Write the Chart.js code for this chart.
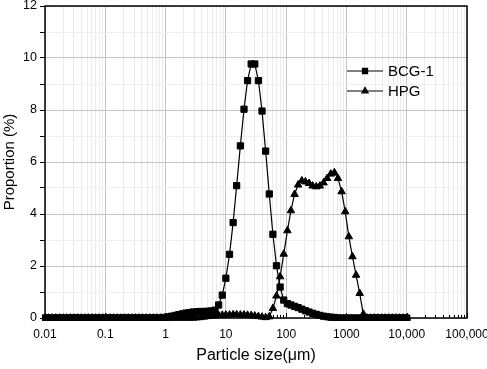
<!DOCTYPE html>
<html lang="en">
<head>
  <meta charset="UTF-8">
  <title>Particle size distribution</title>
  <script src="https://cdn.jsdelivr.net/npm/chart.js"></script>
  <style>
    html, body { margin: 0; padding: 0; background: #fff; }
    #wrap { width: 487px; height: 369px; }
  </style>
</head>
<body>

<div id="wrap"><canvas id="psd" width="487" height="369"></canvas></div>

<script>
  // particle size classes (um), log-spaced bins
  const sizes = [
    0.01, 0.0115, 0.0132, 0.0151, 0.0174, 0.02, 0.0229, 0.0263, 0.0302, 0.0347, 0.0398, 0.0457, 0.0525, 0.0603, 0.0692, 0.0794, 0.0912,
    0.105, 0.12, 0.138, 0.158, 0.182, 0.209, 0.24, 0.275, 0.316, 0.363, 0.417, 0.479, 0.55, 0.631, 0.724, 0.832, 0.955,
    1.1, 1.26, 1.45, 1.66, 1.91, 2.19, 2.51, 2.88, 3.31, 3.8, 4.37, 5.01, 5.75, 6.61, 7.59, 8.71,
    10, 11.5, 13.2, 15.1, 17.4, 20, 22.9, 26.3, 30.2, 34.7, 39.8, 45.7, 52.5, 60.3, 69.2, 79.4, 91.2,
    105, 120, 138, 158, 182, 209, 240, 275, 316, 363, 417, 479, 550, 631, 724, 832, 955,
    1096, 1259, 1445, 1660, 1905, 2188, 2512, 2884, 3311, 3802, 4365, 5012, 5754, 6607, 7586, 8710,
    10000
  ];

  // proportion (%)
  const bcg1 = [
    0, 0, 0, 0, 0, 0, 0, 0, 0, 0, 0, 0, 0, 0, 0, 0, 0,
    0, 0, 0, 0, 0, 0, 0, 0, 0, 0, 0, 0, 0, 0, 0, 0, 0.02,
    0.04, 0.07, 0.1, 0.13, 0.16, 0.19, 0.21, 0.23, 0.24, 0.25, 0.25, 0.26, 0.27, 0.3, 0.5, 0.88,
    1.53, 2.45, 3.67, 5.09, 6.62, 8.03, 9.13, 9.77, 9.77, 9.13, 7.96, 6.42, 4.77, 3.22, 2.01, 1.19, 0.69,
    0.55, 0.5, 0.45, 0.4, 0.34, 0.28, 0.23, 0.18, 0.14, 0.1, 0.07, 0.05, 0.03, 0.02, 0, 0, 0,
    0, 0, 0, 0, 0, 0, 0, 0, 0, 0, 0, 0, 0, 0, 0, 0,
    0
  ];

  const hpg = [
    0, 0, 0, 0, 0, 0, 0, 0, 0, 0, 0, 0, 0, 0, 0, 0, 0,
    0, 0, 0, 0, 0, 0, 0, 0, 0, 0, 0, 0, 0, 0, 0, 0, 0,
    0, 0, 0, 0, 0, 0, 0, 0, 0.01, 0.02, 0.04, 0.06, 0.08, 0.09, 0.1, 0.11,
    0.12, 0.12, 0.13, 0.13, 0.12, 0.12, 0.11, 0.1, 0.08, 0.06, 0.04, 0.02, 0.05, 0.37, 0.85, 1.59, 2.46,
    3.36, 4.13, 4.76, 5.12, 5.28, 5.24, 5.18, 5.08, 5.05, 5.08, 5.2, 5.37, 5.54, 5.59, 5.37, 4.86, 4.09,
    3.13, 2.36, 1.65, 0.95, 0.15, 0, 0, 0, 0, 0, 0, 0, 0, 0, 0, 0,
    0
  ];

  const decades = [0.01, 0.1, 1, 10, 100, 1000, 10000, 100000];
  const xTickLabels = ['0.01', '0.1', '1', '10', '100', '1000', '10,000', '100,000'];

  const FONT = "'Liberation Sans', Arial, sans-serif";

  const frame = {
    id: 'frame',
    afterDraw(chart) {
      const { ctx, chartArea: a } = chart;
      const x = chart.scales.x;
      ctx.save();
      ctx.strokeStyle = '#000';
      ctx.lineWidth = 1;
      x.ticks.forEach(t => {
        const px = Math.round(x.getPixelForValue(t.value)) + 0.5;
        const len = t.major ? 5 : 3;
        ctx.beginPath();
        ctx.moveTo(px, a.bottom);
        ctx.lineTo(px, a.bottom - len);
        ctx.stroke();
      });
      ctx.lineWidth = 1.5;
      ctx.strokeRect(a.left, a.top, a.right - a.left, a.bottom - a.top);
      ctx.restore();
    }
  };

  const psdLegend = {
    id: 'psdLegend',
    afterDraw(chart) {
      const { ctx, chartArea: a } = chart;
      const x0 = a.right - 120, y0 = a.top + 65;
      ctx.save();
      ctx.font = '15px ' + FONT;
      ctx.textBaseline = 'middle';
      chart.data.datasets.forEach((ds, i) => {
        const y = y0 + i * 20;
        ctx.strokeStyle = '#000';
        ctx.fillStyle = '#000';
        ctx.lineWidth = 1.2;
        ctx.beginPath();
        ctx.moveTo(x0, y);
        ctx.lineTo(x0 + 36, y);
        ctx.stroke();
        Chart.helpers.drawPoint(ctx, { pointStyle: ds.pointStyle, radius: 3.6, rotation: 0, borderWidth: 1 }, x0 + 18, y);
        ctx.fillText(ds.label, x0 + 41, y + 1);
      });
      ctx.restore();
    }
  };

  const series = (label, values, style, r) => ({
    label: label,
    data: sizes.map((s, i) => ({ x: s, y: values[i] })),
    borderColor: '#000',
    backgroundColor: '#000',
    borderWidth: 1.2,
    pointStyle: style,
    pointRadius: r,
    pointBorderWidth: 1,
    pointBackgroundColor: '#000',
    pointBorderColor: '#000',
    tension: 0,
    clip: 3
  });

  new Chart(document.getElementById('psd'), {
    type: 'line',
    data: {
      datasets: [
        series('BCG-1', bcg1, 'rect', 4.4),
        series('HPG', hpg, 'triangle', 4.3)
      ]
    },
    options: {
      responsive: false,
      animation: false,
      layout: { padding: { top: 6, right: 20, left: 0, bottom: 0 } },
      plugins: { legend: { display: false }, tooltip: { enabled: false } },
      scales: {
        x: {
          type: 'logarithmic',
          min: 0.01,
          max: 100000,
          afterBuildTicks(scale) {
            const ticks = [];
            decades.forEach((d, i) => {
              ticks.push({ value: d, major: true, label: xTickLabels[i] });
              if (i < decades.length - 1) {
                for (let k = 2; k <= 9; k++) ticks.push({ value: d * k, major: false });
              }
            });
            scale.ticks = ticks;
          },
          afterFit(scale) {
            scale.height = 51;
            scale.paddingLeft = 0;
            scale.paddingRight = 0;
          },
          border: { display: false },
          grid: {
            drawTicks: false,
            color: ctx => ctx.tick && ctx.tick.major ? '#c4c4c4' : '#ebebeb',
            lineWidth: 1
          },
          ticks: {
            autoSkip: false,
            maxRotation: 0,
            padding: 9,
            color: '#000',
            font: { family: FONT, size: 12 },
            callback(value, index, ticks) {
              const i = decades.indexOf(value);
              return i >= 0 ? xTickLabels[i] : '';
            }
          },
          title: {
            display: true,
            text: 'Particle size(\u03bcm)',
            color: '#000',
            font: { family: FONT, size: 16 },
            padding: { top: 4, bottom: 4 }
          }
        },
        y: {
          min: 0,
          max: 12,
          afterFit(scale) {
            scale.width = 45;
            scale.paddingTop = 0;
            scale.paddingBottom = 0;
          },
          border: { display: false },
          grid: {
            color: ctx => ctx.tick && ctx.tick.value % 2 === 0 ? '#c4c4c4' : '#efefef',
            tickColor: '#000',
            tickLength: 5
          },
          ticks: {
            stepSize: 1,
            padding: 3,
            color: '#000',
            font: { family: FONT, size: 12.5 },
            callback: v => v % 2 === 0 ? String(v) : ''
          },
          title: {
            display: true,
            text: 'Proportion (%)',
            color: '#000',
            font: { family: FONT, size: 15 },
            padding: { top: 1, bottom: 4 }
          }
        }
      }
    },
    plugins: [frame, psdLegend]
  });
</script>

</body>
</html>
